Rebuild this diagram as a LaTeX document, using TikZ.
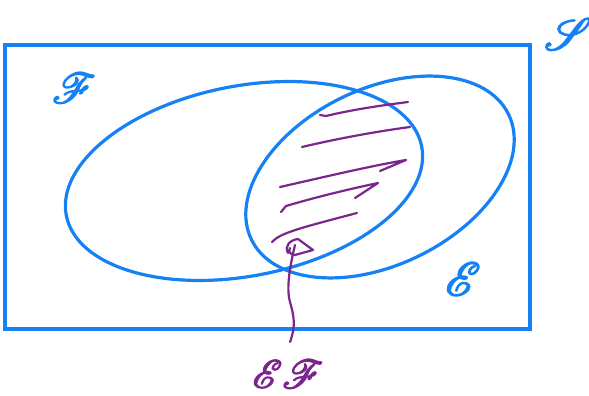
\documentclass[tikz,border=0pt]{standalone}
\usepackage{mathrsfs}
\usepackage{graphicx}
\definecolor{penblue}{RGB}{22,128,245}
\definecolor{penpurple}{RGB}{122,38,140}
\newcommand{\heavy}[2]{\scalebox{#1}{\special{pdf:literal direct 2 Tr 0.8 w}#2\special{pdf:literal direct 0 Tr}}}
\begin{document}
\begin{tikzpicture}[x=1pt,y=1pt,line cap=round,line join=round,
  blueline/.style={draw=penblue,line width=3.2pt},
  purpline/.style={draw=penpurple,line width=2.2pt},
  bluelabel/.style={text=penblue,inner sep=0pt,font=\fontsize{24.88}{26}\selectfont},
  purplabel/.style={text=penpurple,inner sep=0pt,font=\fontsize{24.88}{26}\selectfont}]
\useasboundingbox (0,0) rectangle (589,396);
% universe
\draw[blueline,line cap=butt,line join=miter] (5,351) rectangle (530,67);
% sets
\draw[blueline] (244,215) ellipse [x radius=181, y radius=95, rotate=11];
\draw[blueline] (380,219) ellipse [x radius=143, y radius=88, rotate=26];
% hatching
\draw[purpline] (320,281) -- (326,280) .. controls (355,287) and (385,291) .. (408,294);
\draw[purpline] (302,249) .. controls (340,258) and (380,265) .. (410,269);
\draw[purpline] (280,209) .. controls (320,218) and (370,230) .. (406,236) -- (380,225);
\draw[purpline] (281,184) -- (286,190) .. controls (320,200) and (350,207) .. (378,213) -- (355,198);
\draw[purpline] (272,154) .. controls (280,163) and (300,168) .. (357,183);
% labels
\node[bluelabel] (S) at (568,362) {\heavy{1.8}{$\mathscr{S}$}};
\node[bluelabel] (F) at (74,308) {\heavy{1.7}{$\mathscr{F}$}};
\node[bluelabel] (E) at (463,117) {\heavy{1.9}{$\mathscr{E}$}};
\node[purplabel] (EF) at (288,22) {\heavy{1.6}{$\mathscr{E}\mathscr{F}$}};
% arrow
\coordinate (tail) at (290,54);
\coordinate (tip) at (295,151);
\draw[purpline] (tail) .. controls (296,70) and (294,80) .. (290,94)
  .. controls (286,108) and (290,130) .. (tip);
\draw[purpline] (288,143) .. controls (284,150) and (290,156) .. (298,157)
  -- (313,146) -- (295,141) .. controls (290,141) and (288,145) .. (290,148);
\end{tikzpicture}
\end{document}
